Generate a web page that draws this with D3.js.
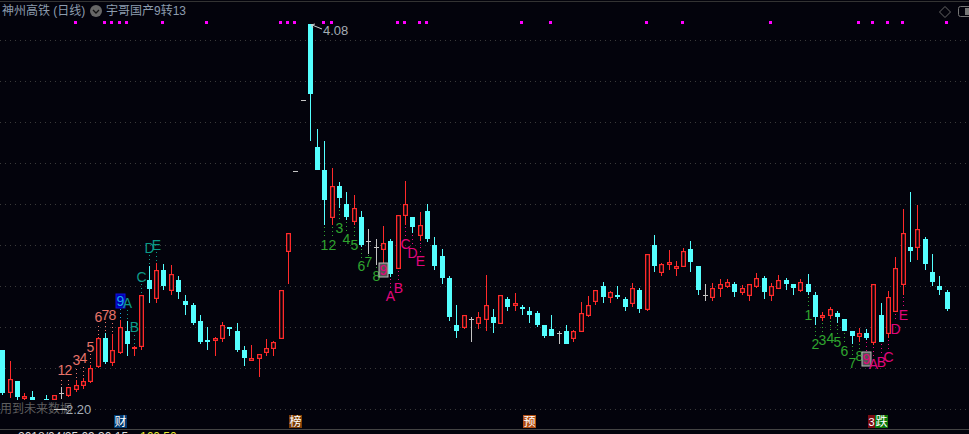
<!DOCTYPE html>
<html>
<head>
<meta charset="utf-8">
<title>神州高铁 (日线)</title>
<script src="https://cdn.jsdelivr.net/npm/d3@7"></script>
<style>
    html, body { margin: 0; padding: 0; background: #03030c; overflow: hidden; }
    svg { display: block; }
    text { font-family: "Liberation Sans", "Noto Sans CJK SC", sans-serif; }
</style>
</head>
<body>
<div id="chart"></div>
<script>
// Daily prices, one entry per trading day (day 5 is hidden in the picture)
const openPrices = [2.45,2.235,2.295,2.205,2.215,null,2.205,2.2,2.235,2.22,2.25,2.27,2.29,2.365,2.51,2.385,2.435,2.545,2.455,2.465,2.8,2.705,2.85,2.745,2.8,2.695,2.675,2.595,2.5,2.495,2.505,2.565,2.545,2.45,2.395,2.405,2.435,2.455,2.505,2.94,3.345,3.7,4.08,3.465,3.35,3.11,3.27,3.18,3.09,3.115,2.995,2.965,2.95,2.995,2.855,3.12,3.115,3.02,3.145,2.975,2.92,2.81,2.575,2.56,2.605,2.58,2.6,2.615,2.58,2.705,2.67,2.665,2.645,2.635,2.575,2.555,2.535,2.545,2.505,2.54,2.62,2.69,2.77,2.71,2.725,2.705,2.68,2.75,2.65,2.975,2.835,2.875,2.855,2.865,2.955,2.87,2.725,2.71,2.755,2.765,2.78,2.735,2.72,2.765,2.81,2.72,2.755,2.8,2.78,2.745,2.78,2.725,2.61,2.62,2.635,2.605,2.545,2.515,2.535,2.485,2.625,2.53,2.64,2.775,2.965,2.96,3.005,2.84,2.77,2.74];
const closePrices = [2.235,2.305,2.215,2.22,2.2,null,2.2,2.225,2.235,2.265,2.275,2.295,2.36,2.51,2.39,2.45,2.565,2.48,2.465,2.725,2.755,2.85,2.77,2.83,2.74,2.675,2.585,2.49,2.49,2.51,2.575,2.555,2.45,2.41,2.41,2.43,2.46,2.49,2.75,3.035,3.345,3.7,3.73,3.35,3.2,3.27,3.21,3.115,3.16,2.975,2.995,2.965,2.985,2.83,3.125,3.18,3.065,3.075,3.005,2.87,2.81,2.615,2.545,2.625,2.605,2.615,2.675,2.585,2.725,2.665,2.685,2.655,2.625,2.575,2.52,2.52,2.535,2.48,2.545,2.635,2.675,2.75,2.715,2.74,2.715,2.665,2.76,2.655,2.93,2.87,2.88,2.89,2.87,2.945,2.89,2.75,2.725,2.76,2.78,2.79,2.74,2.76,2.78,2.81,2.74,2.77,2.8,2.78,2.76,2.79,2.74,2.615,2.625,2.655,2.615,2.545,2.52,2.535,2.51,2.78,2.49,2.715,2.86,3.035,2.945,3.055,2.88,2.79,2.75,2.655];
const highPrices = [2.45,2.395,2.295,2.235,2.245,null,2.225,2.225,2.265,2.265,2.3,2.31,2.375,2.515,2.535,2.53,2.6,2.595,2.47,2.725,2.87,2.885,2.88,2.875,2.82,2.725,2.685,2.625,2.565,2.515,2.59,2.565,2.585,2.47,2.475,2.43,2.505,2.495,2.75,3.035,3.345,3.7,4.08,3.555,3.495,3.36,3.29,3.24,3.225,3.145,3.055,3.005,3.07,3.005,3.125,3.295,3.115,3.14,3.18,3.015,2.955,2.82,2.675,2.625,2.615,2.64,2.825,2.655,2.725,2.715,2.735,2.675,2.665,2.645,2.575,2.625,2.545,2.575,2.55,2.69,2.72,2.75,2.79,2.745,2.77,2.715,2.785,2.76,2.93,3.025,2.885,2.95,2.895,2.96,2.995,2.87,2.78,2.785,2.805,2.805,2.79,2.775,2.78,2.835,2.82,2.785,2.825,2.81,2.78,2.805,2.83,2.74,2.64,2.665,2.645,2.605,2.545,2.56,2.555,2.78,2.685,2.745,2.915,3.155,3.24,3.175,3.015,2.93,2.82,2.75];
const lowPrices = [2.225,2.21,2.2,2.2,2.2,null,2.2,2.2,2.205,2.215,2.24,2.255,2.285,2.36,2.38,2.37,2.43,2.42,2.42,2.45,2.685,2.685,2.75,2.725,2.705,2.625,2.575,2.48,2.45,2.42,2.49,2.52,2.44,2.37,2.395,2.315,2.42,2.42,2.505,2.78,3.345,3.7,3.495,3.35,3.075,3.075,3.16,3.1,3.075,2.965,2.93,2.875,2.885,2.815,2.855,3.075,3.035,2.995,2.99,2.85,2.78,2.595,2.51,2.555,2.49,2.555,2.545,2.535,2.58,2.645,2.645,2.625,2.585,2.565,2.51,2.52,2.48,2.48,2.49,2.54,2.615,2.675,2.685,2.685,2.705,2.645,2.665,2.635,2.645,2.84,2.82,2.85,2.82,2.865,2.84,2.725,2.695,2.695,2.715,2.76,2.715,2.725,2.695,2.76,2.705,2.695,2.755,2.75,2.725,2.74,2.725,2.575,2.595,2.605,2.585,2.545,2.48,2.49,2.5,2.475,2.49,2.51,2.64,2.725,2.89,2.9,2.85,2.77,2.725,2.645];

// 9-13 count runs: day of each label, its text, and the price level it sits at
const seqText = ["1","2","3","4","5","6","7","8","9","A","B","C","D","E"];
const upSeqDays = [8,9,10,11,12,13,14,15,16,17,18,19,20,21];
const upSeqPrices = [2.35,2.35,2.4,2.41,2.465,2.615,2.625,2.625,2.695,2.685,2.565,2.815,2.96,2.975];
const downSeqDays = [44,45,46,47,48,49,50,51,52,53,54,55,56,57];
const downSeqPrices = [2.975,2.975,3.06,3.005,2.975,2.87,2.89,2.82,2.85,2.72,2.76,2.98,2.935,2.895];
const downSeq2Days = [110,111,112,113,114,115,116,117,118,119,120,121,122,123];
const downSeq2Prices = [2.625,2.48,2.5,2.51,2.49,2.445,2.385,2.42,2.405,2.38,2.39,2.415,2.555,2.625];

// Magenta flags along the top and event badges along the bottom
const flagDays = [10,14,15,16,17,22,28,38,39,40,44,45,54,55,57,58,71,75,88,93,105,117,119,121,123,129];
const eventDays = [16,40,72,120];
const eventText = ["财","榜","预","跌"];
const eventColors = ["#00386e","#7c3c04","#b04c12","#0a780a"];

const gridPrices = [4.0,3.795,3.59,3.385,3.18,2.975,2.77,2.565,2.36,2.155];

const width = 969, height = 434;
const bg = "#03030c";
const cyan = "#54ffff", red = "#ff2a2a", gray = "#c4c4c4";
const salmon = "#e8746a", green = "#2fa52f", teal = "#0c9a88", pink = "#e2067c";

const days = d3.range(openPrices.length).filter(i => openPrices[i] !== null);

const x = d3.scaleLinear().domain([0, 129]).range([2.4, 946.7]);
const y = d3.scaleLinear().domain([2.2, 4.08]).range([400, 24]);
const px = i => Math.round(x(i));
const py = p => Math.round(y(p));

const svg = d3.select("#chart").append("svg")
    .attr("width", width)
    .attr("height", height);

// Dotted horizontal grid
const grid = svg.append("g")
    .call(d3.axisRight(y).tickValues(gridPrices).tickSize(width).tickFormat(""));
grid.select(".domain").remove();
grid.selectAll("line")
    .attr("stroke", "#3a3a3a")
    .attr("stroke-dasharray", "1,4")
    .attr("shape-rendering", "crispEdges");

// Frame lines
svg.append("rect").attr("x", 0).attr("y", 1).attr("width", width).attr("height", 1).attr("fill", "#333");
svg.append("rect").attr("x", 0).attr("y", 429).attr("width", width).attr("height", 1).attr("fill", "#444");

// Header
svg.append("text").attr("x", 2).attr("y", 15).attr("font-size", 12).attr("fill", "#8c9cae").text("神州高铁 (日线)");
svg.append("circle").attr("cx", 96).attr("cy", 11).attr("r", 6).attr("fill", "#666");
svg.append("path").attr("d", "M93,10 L96,13 L99,10").attr("fill", "none").attr("stroke", "#111").attr("stroke-width", 1.3);
svg.append("text").attr("x", 106).attr("y", 15).attr("font-size", 12).attr("fill", "#8c9cae").text("宇哥国产9转13");
svg.append("path").attr("d", "M945,6.5 L950.5,12 L945,17.5 L939.5,12 Z").attr("fill", "none").attr("stroke", "#666");
svg.append("rect").attr("x", 958.5).attr("y", 6.5).attr("width", 16).attr("height", 10).attr("rx", 2).attr("fill", "none").attr("stroke", "#777");
svg.append("rect").attr("x", 965).attr("y", 8).attr("width", 4).attr("height", 7).attr("fill", "#777");

// Flags
svg.append("g").selectAll("rect")
    .data(flagDays)
    .enter().append("rect")
    .attr("x", d => px(d) - 2)
    .attr("y", 21)
    .attr("width", 3)
    .attr("height", 3)
    .attr("fill", "#ff00ff");

// Candles
const candleColor = i => openPrices[i] === closePrices[i] ? gray : (closePrices[i] > openPrices[i] ? red : cyan);
const candles = svg.append("g").attr("shape-rendering", "crispEdges");

// wick from high to low, the hollow bodies cover it again
candles.selectAll(".wick")
    .data(days)
    .enter().append("rect")
    .attr("class", "wick")
    .attr("x", px)
    .attr("y", i => py(highPrices[i]))
    .attr("width", 1)
    .attr("height", i => Math.max(1, py(lowPrices[i]) - py(highPrices[i])))
    .attr("fill", candleColor);

// bodies, always 5px wide; gray dojis end up as a short dash
candles.selectAll(".body")
    .data(days)
    .enter().append("rect")
    .attr("class", "body")
    .attr("x", i => px(i) - 2)
    .attr("y", i => py(Math.max(openPrices[i], closePrices[i])))
    .attr("width", 5)
    .attr("height", i => Math.max(1, py(Math.min(openPrices[i], closePrices[i])) - py(Math.max(openPrices[i], closePrices[i]))))
    .attr("fill", candleColor);

// red candles are hollow: punch out the inside of the body, sides stay a bit over 1px
const upDays = days.filter(i => closePrices[i] > openPrices[i]);
svg.append("g").selectAll("rect")
    .data(upDays)
    .enter().append("rect")
    .attr("x", i => px(i) - 0.7)
    .attr("y", i => py(closePrices[i]) + 1.2)
    .attr("width", 2.4)
    .attr("height", i => Math.max(0, py(openPrices[i]) - py(closePrices[i]) - 2.4))
    .attr("fill", bg);

// Count labels with their dotted stems
function drawSeq(dayList, priceList, above, digitColor, letterColor, boxFill, boxStroke, nineColor) {
    const g = svg.append("g");
    dayList.forEach((d, k) => {
        const t = seqText[k];
        const isLetter = k > 8;
        const color = k === 8 ? nineColor : (isLetter ? letterColor : digitColor);
        const ly = y(priceList[k]);
        const y1 = above ? y(highPrices[d]) - 2 : y(lowPrices[d]) + 2;
        const y2 = above ? ly + 7 : ly - 7;
        g.append("line")
            .attr("x1", px(d) + 0.5).attr("x2", px(d) + 0.5)
            .attr("y1", y1).attr("y2", y2)
            .attr("stroke", color)
            .attr("stroke-dasharray", "1,3");
        if (k === 8) {
            g.append("rect")
                .attr("x", px(d) - 4).attr("y", ly - 7)
                .attr("width", 9).attr("height", 14)
                .attr("fill", boxFill).attr("stroke", boxStroke);
        }
        g.append("text")
            .attr("x", px(d) + 0.5).attr("y", ly + 5)
            .attr("text-anchor", "middle")
            .attr("font-size", 14)
            .attr("fill", color)
            .text(t);
    });
}

drawSeq(upSeqDays, upSeqPrices, true, salmon, teal, "#0000b4", "#1010e0", "#18a8e8");
drawSeq(downSeqDays, downSeqPrices, false, green, pink, "#555", "#bbb", pink);
drawSeq(downSeq2Days, downSeq2Prices, false, green, pink, "#555", "#bbb", pink);

// High and low price notes
const topDay = 42;
svg.append("line")
    .attr("x1", px(topDay) + 2).attr("y1", y(4.08) + 1)
    .attr("x2", px(topDay) + 12).attr("y2", y(4.08) + 5)
    .attr("stroke", "#ccc");
svg.append("path")
    .attr("d", `M${px(topDay) + 1},${y(4.08) + 1} l4,-1 M${px(topDay) + 1},${y(4.08) + 1} l2,3`)
    .attr("stroke", "#ccc").attr("fill", "none");
svg.append("text").attr("x", px(topDay) + 13).attr("y", 35).attr("font-size", 13).attr("fill", "#a4acb4").text("4.08");

svg.append("text").attr("x", 0).attr("y", 413).attr("font-size", 12).attr("fill", "#5e5e5e").text("用到未来数据");
svg.append("line").attr("x1", 54).attr("y1", 409.5).attr("x2", 67).attr("y2", 409.5).attr("stroke", "#ccc");
svg.append("text").attr("x", 66).attr("y", 414).attr("font-size", 13).attr("fill", "#a4acb4").text("2.20");

// Event badges
const events = svg.append("g").selectAll("g")
    .data(eventDays)
    .enter().append("g")
    .attr("transform", d => `translate(${px(d)},415)`);
events.append("rect")
    .attr("x", -6).attr("y", 0)
    .attr("width", 13).attr("height", 13)
    .attr("fill", (d, k) => eventColors[k]);
events.append("text")
    .attr("x", 0.5).attr("y", 11)
    .attr("text-anchor", "middle")
    .attr("font-size", 12)
    .attr("fill", "#fff")
    .text((d, k) => eventText[k]);

// narrow count badge stuck to the left of the last event
svg.append("rect").attr("x", px(120) - 13).attr("y", 415).attr("width", 7).attr("height", 13).attr("fill", "#7c0c12");
svg.append("text").attr("x", px(120) - 9.5).attr("y", 426).attr("text-anchor", "middle").attr("font-size", 11).attr("fill", "#fff").text("3");

// Status line, cut off by the bottom of the window
svg.append("text").attr("x", 18).attr("y", 441).attr("font-size", 12).attr("fill", "#ddd").text("2018/04/25  09:30:15");
svg.append("text").attr("x", 140).attr("y", 441).attr("font-size", 12).attr("fill", "#e8e830").text("160.50");
</script>
</body>
</html>
